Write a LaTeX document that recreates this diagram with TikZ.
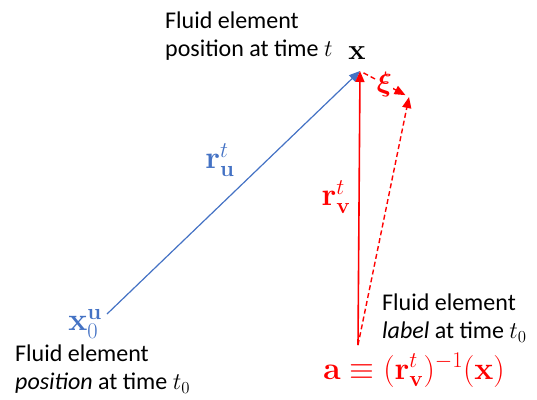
\RequirePackage{fix-cm}
\documentclass[tikz,border=0pt]{standalone}
\usepackage{amsmath, amssymb, bm}
\usepackage[no-math]{fontspec}
\setmainfont{Carlito}
\usepackage{xcolor}
\usetikzlibrary{arrows.meta, positioning}

\definecolor{flowblue}{RGB}{68,114,196}
\definecolor{flowred}{RGB}{255,0,0}

\begin{document}
\begin{tikzpicture}[x=1pt, y=-1pt,
    desc/.style={font=\fontsize{24}{28}\selectfont, align=left, inner sep=0pt, anchor=north west},
    sym/.style={font=\fontsize{32}{36}\selectfont, inner sep=0pt},
    tip/.style={-{Triangle[length=11pt, width=9pt]}}]
    \useasboundingbox (0,0) rectangle (537,399);

    % End points
    \coordinate (x0) at (107,314);
    \coordinate (xt) at (360,71);
    \coordinate (a0) at (358,345);
    \coordinate (xi) at (409,97);

    % Position at time t
    \node[desc] (toptext) at (165,12) {Fluid element\\position at time $t$};
    \node[sym, anchor=base, font=\fontsize{29}{32}\selectfont] (xlab) at (357,59) {$\mathbf{x}$};

    % Blue trajectory
    \draw[tip, flowblue, line width=1.2pt] (x0) -- (xt);
    \node[sym, text=flowblue] (ru) at (220,160) {$\mathbf{r}^{t}_{\mathbf{u}}$};
    \node[sym, text=flowblue] (x0lab) at (85,324) {$\mathbf{x}^{\mathbf{u}}_{0}$};
    \node[desc] (lefttext) at (15,345) {Fluid element\\\textit{position} at time $t_0$};

    % Red label map
    \draw[tip, flowred, line width=1.6pt] (a0) -- (xt);
    \draw[tip, flowred, line width=1.4pt, dash pattern=on 5pt off 3pt] (a0) -- (xi);
    \node[sym, text=flowred] (rv) at (336,197) {$\mathbf{r}^{t}_{\mathbf{v}}$};
    \node[desc] (righttext) at (382,294) {Fluid element\\\textit{label} at time $t_0$};
    \node[sym, text=flowred, anchor=base, font=\fontsize{32}{38}\selectfont] (alab) at (414,379)
        {$\mathbf{a}\equiv(\mathbf{r}^{t}_{\mathbf{v}})^{-1}(\mathbf{x})$};

    % Displacement
    \draw[tip, flowred, line width=1.4pt, dash pattern=on 5pt off 3pt, shorten <=4pt, shorten >=4pt] (xt) -- (xi)
        node[midway, fill=white, inner sep=1pt, text=flowred, font=\fontsize{28}{32}\selectfont] (xilab) {$\bm{\xi}$};
\end{tikzpicture}
\end{document}
